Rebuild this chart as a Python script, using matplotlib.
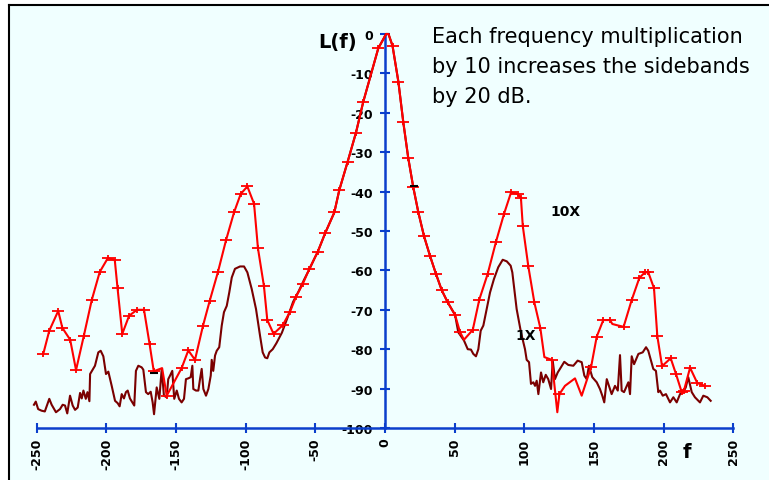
import numpy as np
import matplotlib
matplotlib.use("Agg")
import matplotlib.pyplot as plt
from matplotlib.path import Path
from matplotlib.patches import Rectangle
from matplotlib.lines import Line2D

# 10X curve (red, with tick marks)
f10 = [-245.4, -241, -234.6, -231.6, -226, -221.8, -216.2, -210.5, -204.8, -199,
       -194, -192, -188.6, -183.7, -178, -173, -169, -166, -160, -156.7,
       -146, -141.2, -136.4, -130.7, -125.9, -120, -114.1, -108.4, -103.6, -98.8,
       -94, -91.2, -86.9, -84.5, -80, -73.4, -68.2, -63.9, -59.1, -54.3,
       -48.3, -42.9, -36.4, -32.8, -26.8, -20.8, -15.6, -4.8, -1.5, 0.7,
       2.5, 5.4, 9.6, 13.1, 16.7, 20.3, 23.9, 28, 32.3, 36.6,
       40.7, 45, 50.3, 53.8, 56.7, 63, 67.7, 73.7, 79.7, 85.4,
       90.5, 95.3, 97.6, 98.9, 102.9, 107.2, 111.5, 114.4, 119.7, 123.7,
       125.2, 129.2, 136.4, 141.2, 147.9, 152, 156.7, 161.5, 163.2, 167.5,
       171.3, 177.1, 182.6, 186.6, 189, 193.1, 195.5, 198.9, 205.1, 208.9,
       213, 214.6, 219, 224.2, 229.7]
l10 = [-81.3, -75.3, -70.3, -74.6, -77.6, -85.3, -76.6, -67.5, -60.4, -56.9,
       -57.3, -64.5, -76.1, -71.5, -70.0, -70.0, -78.7, -85.6, -84.8, -91.8,
       -84.8, -80.3, -82.7, -74.1, -67.8, -60.5, -52.3, -45.3, -40.6, -38.7,
       -43.1, -54.4, -64.0, -72.6, -76.1, -73.9, -70.5, -66.7, -63.5, -59.6,
       -55.3, -50.5, -45.3, -39.6, -32.4, -25.0, -17.2, -3.6, -1.5, 0,
       0, -3.0, -12.1, -22.3, -31.5, -38.9, -45.2, -51.3, -56.3, -60.9,
       -65.0, -68.1, -71.3, -75.6, -77.6, -75.1, -67.4, -60.9, -52.7, -45.7,
       -40.2, -40.6, -41.7, -48.7, -59.0, -68.1, -74.6, -82.0, -82.7, -96.0,
       -91.4, -89.3, -87.4, -91.8, -84.6, -76.8, -72.6, -72.6, -73.6, -74.0,
       -74.3, -67.5, -61.9, -60.5, -60.5, -64.5, -76.7, -84.3, -82.3, -86.3,
       -90.9, -90.5, -84.7, -88.6, -89.3]
# points of the 10X curve that carry no tick mark
unmarked = [-160, -1.5, 0.7, 2.5, 56.7, 114.4, 123.7, 129.2, 136.4, 141.2, 163.2, 167.5]

# 1X curve (dark red, noisy)
f1 = [-252, -250.7, -249, -246.6, -244.2, -241, -239.3, -236.2, -233.3, -231.4,
      -229.7, -228.1, -226.1, -224.2, -222.5, -220.6, -218.9, -217.7, -216.5, -214.8,
      -213.6, -212.2, -211.7, -208.2, -205.8, -204.1, -202.2, -200.3, -198.6, -196.2,
      -193.8, -191.9, -190.5, -189, -187.4, -186, -184.7, -183.1, -181.4, -180,
      -178.8, -177.1, -174.7, -173.5, -171.6, -170, -168.2, -166.8, -165.8, -163.9,
      -162, -160.3, -158.7, -156.7, -155.6, -154.3, -152.7, -151.3, -149.5, -147.9,
      -146, -144.3, -142.9, -141.2, -139.5, -138.3, -137.6, -135.7, -134, -132.8,
      -131.6, -130.4, -128.5, -126.8, -125.1, -124.4, -123.3, -122, -120.8, -119,
      -117.2, -115.6, -113.6, -111.8, -110, -107.7, -104.1, -101.2, -98.8, -95.7,
      -92.6, -89.7, -87.8, -86.1, -84.5, -83, -80.6, -78, -74, -70,
      -66, -62, -58, -54, -50, -48.3, -42.9, -36.4, -32.8, -26.8,
      -20.8, -15.6, -4.8, -1.5, 0.7, 2.5, 5.4, 9.6, 13.1, 16.7,
      20.3, 23.9, 28, 32.3, 36.6, 40.7, 45, 50.3, 52.6, 56.7,
      59.4, 61.7, 63.4, 65.3, 67, 68.7, 70.6, 73, 75.4, 78.2,
      81.3, 84.5, 87.4, 90.2, 91.4, 94.5, 97.6, 100.5, 101.7, 103.4,
      104.8, 106.5, 107.7, 108.9, 110.1, 112, 113.6, 115.4, 117.2, 119.2,
      120.4, 122, 124, 125.6, 128.7, 131.6, 135.2, 138.3, 141.2, 143.1,
      144.8, 146.4, 148.8, 152, 154.3, 156, 157.4, 159.2, 160.8, 162.7,
      165.1, 167.1, 168.7, 169.9, 171.6, 174.7, 175.9, 177.1, 178.8, 181.9,
      185, 187.4, 189, 192.6, 194.5, 196.2, 197.4, 199.4, 201.7, 204.6,
      207, 209.4, 211.8, 214.1, 215.9, 217.7, 220.2, 222.5, 226.1, 228.5,
      231.4, 233.8]
l1 = [-94.1, -93.3, -95.2, -95.6, -95.8, -92.6, -94.1, -96.0, -95.2, -94.1,
      -94.3, -96.3, -91.8, -94.3, -95.4, -94.8, -91.1, -92.5, -90.5, -92.6,
      -90.9, -93.2, -86.3, -84.2, -80.8, -80.4, -81.8, -86.3, -85.7, -89.3,
      -93.1, -93.7, -94.5, -91.4, -92.5, -90.9, -90.5, -92.5, -93.5, -94.3,
      -85.5, -84.2, -84.6, -85.2, -90.9, -91.4, -90.8, -93.5, -96.5, -89.7,
      -92.6, -85.0, -91.8, -92.2, -87.6, -86.7, -85.5, -92.6, -90.5, -92.6,
      -93.5, -92.6, -87.6, -87.4, -87.1, -84.2, -90.1, -90.5, -90.5, -87.6,
      -85.0, -90.1, -91.8, -90.1, -86.7, -82.7, -85.5, -81.6, -80.4, -79.5,
      -74.0, -70.6, -69.0, -65.6, -61.8, -59.6, -59.0, -59.0, -60.5, -64.7,
      -69.8, -76.6, -80.8, -82.1, -82.3, -80.8, -80.0, -78.5, -75.8, -72.0,
      -68.0, -65.3, -62.3, -59.5, -56.5, -55.3, -50.5, -45.3, -39.6, -32.4,
      -25.0, -17.2, -3.6, -1.5, 0, 0, -3.0, -12.1, -22.3, -31.5,
      -38.9, -45.2, -51.3, -56.3, -60.9, -65.0, -68.1, -71.3, -75.7, -77.8,
      -80.0, -80.1, -81.2, -81.8, -80.0, -75.3, -74.0, -69.8, -65.6, -62.2,
      -59.2, -57.3, -57.7, -58.8, -60.5, -69.8, -75.7, -80.0, -82.7, -83.3,
      -88.8, -88.4, -89.3, -88.0, -91.4, -85.9, -88.4, -86.5, -87.6, -90.1,
      -82.9, -87.6, -85.9, -85.0, -83.2, -84.0, -84.2, -82.9, -83.3, -86.7,
      -87.6, -84.2, -87.1, -88.4, -90.1, -91.8, -93.5, -87.6, -89.3, -91.4,
      -89.3, -90.5, -81.5, -90.5, -90.9, -88.4, -91.4, -81.8, -83.8, -81.2,
      -80.8, -79.5, -80.4, -85.0, -85.5, -90.9, -90.5, -91.8, -91.4, -93.5,
      -92.2, -93.5, -91.4, -90.9, -89.7, -87.1, -90.9, -92.2, -93.5, -91.8,
      -92.2, -93.1]

# two stray black dashes
f_dash = [-166, 20.5]
l_dash = [-86, -38.5]

xticks = [-250, -200, -150, -100, -50, 0, 50, 100, 150, 200, 250]
yticks = [0, -10, -20, -30, -40, -50, -60, -70, -80, -90, -100]
note = ["Each frequency multiplication", "by 10 increases the sidebands", "by 20 dB."]

blue = "#0b3fcc"
W, H = 769, 481

fig = plt.figure(figsize=(W / 100, H / 100), dpi=100)
fig.patch.set_facecolor("white")
fig.add_artist(Rectangle((9 / W, 0), 1 - 9 / W, 1 - 6 / H, transform=fig.transFigure,
                         facecolor="#f0ffff", edgecolor="none", zorder=-10))
fig.add_artist(Line2D([9 / W, 1], [1 - 6 / H, 1 - 6 / H], transform=fig.transFigure,
                      color="black", lw=1.5))
fig.add_artist(Line2D([9 / W, 9 / W], [0, 1 - 6 / H], transform=fig.transFigure,
                      color="black", lw=1.5))

# axes placed so that 1 unit of f = 1.393 px and 1 dB = 3.94 px
x0, sx = 385.0, 1.393
y0, sy = 35.0, 3.94
xlo, xhi = -256, 256
ylo, yhi = -102, 2
left = (x0 + xlo * sx) / W
width = (xhi - xlo) * sx / W
top = y0 - yhi * sy
height = (yhi - ylo) * sy / H
bottom = 1 - top / H - height
ax = fig.add_axes([left, bottom, width, height])
ax.set_facecolor("none")
ax.set_xlim(xlo, xhi)
ax.set_ylim(ylo, yhi)

for s in ["top", "right"]:
    ax.spines[s].set_visible(False)
ax.spines["left"].set_position(("data", 0))
ax.spines["left"].set_bounds(-100, 0)
ax.spines["bottom"].set_position(("data", -100))
ax.spines["bottom"].set_bounds(-250, 250)
for s in ["left", "bottom"]:
    ax.spines[s].set_color(blue)
    ax.spines[s].set_linewidth(1.8)

ax.set_xticks(xticks)
ax.set_xticklabels([str(v) for v in xticks], rotation=90, fontweight="bold", fontsize=9)
ax.set_yticks(yticks)
ax.set_yticklabels([str(v) for v in yticks], fontweight="bold", fontsize=9)
ax.tick_params(direction="inout", length=7.5, width=1.5, color=blue, pad=3)
ax.tick_params(axis="y", pad=5)

# tick-shaped marker: wide horizontal bar, short vertical bar
plus = Path([(-1, 0), (1, 0), (0, -0.55), (0, 0.55)],
            [Path.MOVETO, Path.LINETO, Path.MOVETO, Path.LINETO])
marks = [i for i, v in enumerate(f10) if v not in unmarked]

ax.plot(f1, l1, color="#7a0000", lw=1.5, zorder=3)
ax.plot(f10, l10, color="#ff0000", lw=1.5, marker=plus, markersize=8,
        markeredgewidth=1.3, markevery=marks, zorder=4)
ax.plot(f_dash, l_dash, ls="none", marker="_", color="black", markersize=6,
        markeredgewidth=1.5, zorder=5)

ax.text(-20, -2, "L(f)", ha="right", va="center", fontsize=14, fontweight="bold")
ax.text(217, -106, "f", ha="center", va="center", fontsize=14, fontweight="bold")
ax.text(129.7, -44.9, "10X", ha="center", va="center", fontsize=10, fontweight="bold")
ax.text(100.7, -76.3, "1X", ha="center", va="center", fontsize=10, fontweight="bold")
for i, line in enumerate(note):
    ax.text(33.7, -2.1 - 7.55 * i, line, ha="left", va="baseline", fontsize=15)

fig.savefig("out.png", dpi=100)
